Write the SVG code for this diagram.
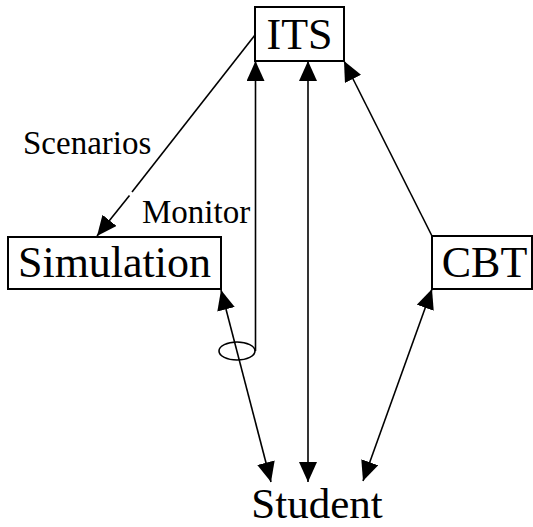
<svg xmlns="http://www.w3.org/2000/svg" width="533" height="527" viewBox="0 0 533 527">
<style>
  .box{fill:#fff;stroke:#000;stroke-width:2}
  .lbl{font-family:"Liberation Serif","Times New Roman",serif;fill:#000}
  .big{font-size:44px}
  .small{font-size:33px}
  .ln{stroke:#000;stroke-width:1.6;fill:none}
</style>
<defs>
  <marker id="ah" viewBox="0 0 20 18" refX="20" refY="9" markerWidth="20" markerHeight="18" markerUnits="userSpaceOnUse" orient="auto-start-reverse">
    <path d="M0,0 L20,9 L0,18 z" fill="#000"/>
  </marker>
</defs>
<rect width="533" height="527" fill="#fff"/>
<g id="connectors">
  <line class="ln" x1="255" y1="35" x2="132" y2="192"/>
  <line class="ln" x1="129.5" y1="195.5" x2="97" y2="236" marker-end="url(#ah)"/>
  <line class="ln" x1="255.5" y1="351" x2="255.5" y2="61" marker-end="url(#ah)"/>
  <ellipse class="ln" cx="237" cy="351" rx="18" ry="9"/>
  <line class="ln" x1="221" y1="290" x2="271" y2="482" marker-start="url(#ah)" marker-end="url(#ah)"/>
  <line class="ln" x1="308" y1="61" x2="308" y2="482" marker-start="url(#ah)" marker-end="url(#ah)"/>
  <line class="ln" x1="432" y1="289" x2="363" y2="481" marker-start="url(#ah)" marker-end="url(#ah)"/>
  <line class="ln" x1="432" y1="236" x2="344" y2="61" marker-end="url(#ah)"/>
  <text class="lbl small" x="23" y="154">Scenarios</text>
  <text class="lbl small" x="142" y="223">Monitor</text>
</g>
<g id="its">
  <rect class="box" x="255" y="7" width="89" height="54"/>
  <text class="lbl big" x="299.5" y="49" text-anchor="middle">ITS</text>
</g>
<g id="simulation">
  <rect class="box" x="8" y="237" width="213" height="52"/>
  <text class="lbl big" x="114.5" y="277" text-anchor="middle">Simulation</text>
</g>
<g id="cbt">
  <rect class="box" x="432" y="236" width="100" height="53"/>
  <text class="lbl big" x="484.5" y="277" text-anchor="middle">CBT</text>
</g>
<g id="student">
  <text class="lbl" style="font-size:43px" x="317" y="518" text-anchor="middle">Student</text>
</g>
</svg>
